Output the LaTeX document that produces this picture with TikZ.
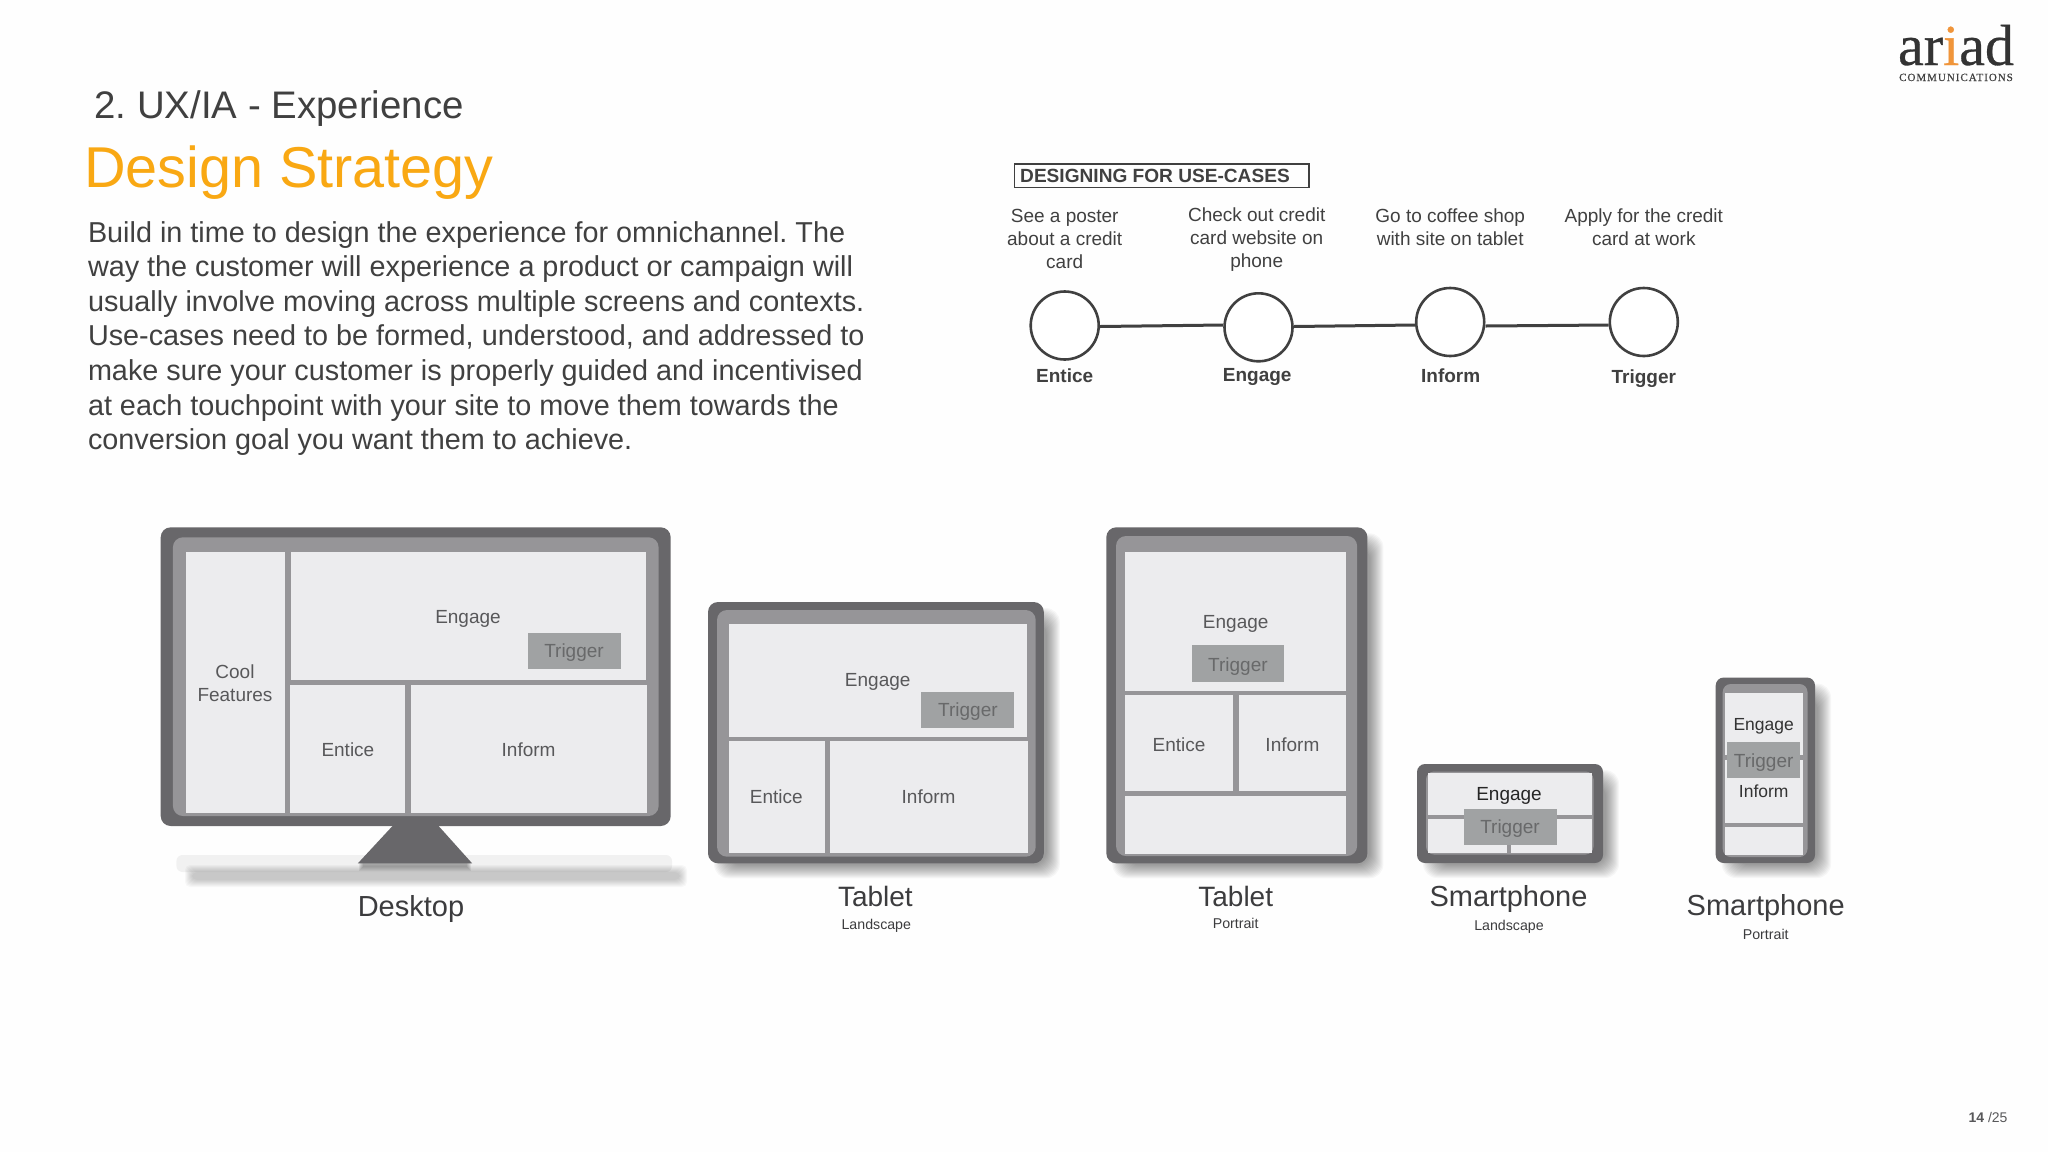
\documentclass[tikz,border=0pt]{standalone}
\usepackage{fontspec}
\setmainfont{Liberation Sans}
\newfontfamily\logofont[FakeBold=0.5]{Liberation Serif}
\newfontfamily\logosmall[LetterSpace=9,FakeBold=0.4]{Liberation Serif}
\usetikzlibrary{calc}
\definecolor{bgc}{HTML}{FEFEFE}
\definecolor{devdark}{HTML}{68676A}
\definecolor{devframe}{HTML}{969598}
\definecolor{devpanel}{HTML}{ECECEE}
\definecolor{trigfill}{HTML}{A0A2A3}
\definecolor{paneltxt}{HTML}{58585A}
\definecolor{trigtxt}{HTML}{68696A}
\definecolor{labeltxt}{HTML}{3C3C3E}
\definecolor{bodytxt}{HTML}{404040}
\definecolor{orangetxt}{HTML}{F9A813}
\definecolor{logoorange}{HTML}{F0953A}
\tikzset{
  txtbase/.style={inner sep=0pt,outer sep=0pt,anchor=center,align=center},
  paneltext/.style={txtbase,text=paneltxt,font=\fontsize{19}{23}\selectfont},
  trigtext/.style={txtbase,text=trigtxt,font=\fontsize{19}{23}\selectfont},
  darktext/.style={txtbase,text=black!85,font=\fontsize{19}{23}\selectfont},
  phonetext/.style={txtbase,text=black!80,font=\fontsize{17.5}{21}\selectfont},
  devlabel/.style={txtbase,text=labeltxt,font=\fontsize{29}{33}\selectfont},
  tablabel/.style={txtbase,text=labeltxt,font=\fontsize{28}{33}\selectfont},
  devsub/.style={txtbase,text=labeltxt,font=\fontsize{14.2}{17}\selectfont},
  ucase/.style={txtbase,text=bodytxt,font=\fontsize{19}{23}\selectfont},
  ulabel/.style={txtbase,text=bodytxt,font=\bfseries\fontsize{19}{23}\selectfont},
  stepcircle/.style={circle,draw=black!75,line width=2.6pt,fill=white,minimum size=68pt,inner sep=0pt},
  stepline/.style={draw=black!75,line width=3pt},
  panelfill/.style={fill=devpanel},
  trigfillstyle/.style={fill=trigfill},
}
% soft drop shadow of a device box
\newcommand{\devshadow}[4]{%
  \foreach \k in {1,...,14}{
    \fill[black,opacity=0.03,rounded corners=14pt] ({#1+20-\k},{#2+20-\k}) rectangle ({#3+2+\k},{#4+1+\k});
  }
}
% device: outer box, frame box, corner radius
\newcommand{\devicebody}[9]{%
  \fill[devdark,rounded corners=#9pt] (#1,#2) rectangle (#3,#4);
  \fill[devframe,rounded corners=#9pt] (#5,#6) rectangle (#7,#8);
}
\newcommand{\pnl}[4]{\fill[panelfill] (#1,#2) rectangle (#3,#4);}
\newcommand{\trg}[4]{\fill[trigfillstyle] (#1,#2) rectangle (#3,#4);}
\begin{document}
\frenchspacing
\begin{tikzpicture}[x=1pt,y=-1pt]
\useasboundingbox (0,0) rectangle (2048,1152);
\fill[bgc] (0,0) rectangle (2048,1152);

% Logo
\node[inner sep=0pt,outer sep=0pt,text=black!80,font=\logofont\fontsize{58}{60}\selectfont,anchor=base] (logo) at (1956,65) {ar{\color{logoorange}i}ad};
\node[inner sep=0pt,outer sep=0pt,text=black!75,font=\logosmall\fontsize{11}{12}\selectfont,anchor=base] (logosub) at (1956,81) {COMMUNICATIONS};

% Headline
\node[txtbase,anchor=west,text=bodytxt,font=\fontsize{38.4}{44}\selectfont] (head) at (94.5,109) {2. UX/IA - Experience};
\node[txtbase,anchor=west,text=orangetxt,font=\fontsize{57.6}{64}\selectfont] (title) at (84,173) {Design Strategy};
\node[txtbase,anchor=west,align=left,text=bodytxt,font=\fontsize{28.8}{34.65}\selectfont] (body) at (88,338.5) {Build in time to design the experience for omnichannel. The\\
way the customer will experience a product or campaign will\\
usually involve moving across multiple screens and contexts.\\
Use-cases need to be formed, understood, and addressed to\\
make sure your customer is properly guided and incentivised\\
at each touchpoint with your site to move them towards the\\
conversion goal you want them to achieve.};

% Use-cases
\draw[draw=black!75,line width=1.6pt] (1014.5,163.7) rectangle (1309,187.3);
\node[txtbase,anchor=west,text=bodytxt,font=\bfseries\fontsize{19.1}{23}\selectfont] (ucasehead) at (1020.2,176) {DESIGNING FOR USE-CASES};
\node[ucase] (t1) at (1064.7,238.5) {See a poster\\about a credit\\card};
\node[ucase] (t2) at (1256.7,239.5) {Check out credit\\card website on\\phone};
\node[ucase] (t3) at (1450.2,227) {Go to coffee shop\\with site on tablet};
\node[ucase] (t4) at (1643.8,227) {Apply for the credit\\card at work};
\node[stepcircle] (c1) at (1064.7,325.5) {};
\node[stepcircle] (c2) at (1258.5,327.3) {};
\node[stepcircle] (c3) at (1450.2,322) {};
\node[stepcircle] (c4) at (1643.8,322) {};
\draw[stepline] ([yshift=-1pt]c1.east) -- ([yshift=2.3pt]c2.west);
\draw[stepline] ([yshift=0.8pt]c2.east) -- ([yshift=-3pt]c3.west);
\draw[stepline] ([yshift=-4pt]c3.east) -- ([yshift=-3pt]c4.west);
\node[ulabel] (l1) at (1064.7,376) {Entice};
\node[ulabel] (l2) at (1257.2,377) {Engage};
\node[ulabel] (l3) at (1450.7,376) {Inform};
\node[ulabel] (l4) at (1643.8,378.5) {Trigger};

% Desktop
\fill[black,opacity=0.05,rounded corners=6pt] (176.4,855) rectangle (672,872);
\foreach \k in {1,...,8}{
  \fill[black,opacity=0.027,rounded corners=5pt] ({184+\k},{864+\k}) rectangle ({688-\k},{888-\k});
}
\foreach \k in {1,...,5}{
  \fill[black,opacity=0.07] ({357.9+\k},{862}) rectangle ({472.1-\k},{872-\k});
}
\fill[devdark] (392.5,826) -- (438.6,826) -- (472.1,863.3) -- (357.9,863.3) -- cycle;
\devicebody{160.7}{527.3}{670.7}{826}{172.9}{537.3}{658.6}{816}{10}
\pnl{185.7}{552}{284.6}{812.7}
\pnl{290.7}{552}{646.4}{680}
\pnl{290.4}{685}{405}{812.7}
\pnl{411}{685}{647}{812.7}
\trg{527.9}{633}{620.7}{669}
\node[paneltext] (d1) at (468,619) {Engage};
\node[trigtext] (d2) at (574,653) {Trigger};
\node[paneltext] (d3) at (235,683) {Cool\\Features};
\node[paneltext] (d4) at (347.9,750) {Entice};
\node[paneltext] (d5) at (528.6,750) {Inform};
\node[devlabel] (d6) at (411,908.5) {Desktop};

% Tablet landscape
\devshadow{708}{602}{1043.8}{863.3}
\devicebody{708}{602}{1043.8}{863.3}{717}{610}{1035.7}{856.7}{10}
\pnl{728.6}{623.7}{1027.2}{736.7}
\pnl{728.6}{740.7}{825}{852.7}
\pnl{829.9}{740.7}{1028.1}{852.7}
\trg{921}{692}{1013.8}{728}
\node[paneltext] (a1) at (877.7,682) {Engage};
\node[trigtext] (a2) at (967.9,712) {Trigger};
\node[paneltext] (a3) at (776.3,797) {Entice};
\node[paneltext] (a4) at (928.6,797) {Inform};
\node[tablabel] (a5) at (875.4,896) {Tablet};
\node[devsub] (a6) at (876.3,926) {Landscape};

% Tablet portrait
\devshadow{1106.3}{527.3}{1367.4}{863.3}
\devicebody{1106.3}{527.3}{1367.4}{863.3}{1116}{536}{1357.1}{856}{10}
\pnl{1125.4}{551.7}{1346.4}{691}
\pnl{1125.4}{695.3}{1232.6}{791}
\pnl{1238.8}{695.3}{1346.4}{791}
\pnl{1125.4}{796}{1346.4}{854}
\trg{1191.5}{645.3}{1284.4}{681.7}
\node[paneltext] (b1) at (1235.7,623.7) {Engage};
\node[trigtext] (b2) at (1237.9,667) {Trigger};
\node[paneltext] (b3) at (1179,744.4) {Entice};
\node[paneltext] (b4) at (1292.4,744.4) {Inform};
\node[tablabel] (b5) at (1235.7,896) {Tablet};
\node[devsub] (b6) at (1235.7,923.5) {Portrait};

% Smartphone landscape
\devshadow{1417}{764}{1603}{863}
\devicebody{1417}{764}{1603}{863}{1426}{771.5}{1593.5}{854.5}{8}
\pnl{1427.7}{773}{1592}{815}
\pnl{1427.7}{819}{1592}{852.7}
\fill[devframe] (1507.3,845) rectangle (1511,852.7);
\trg{1463.7}{809}{1556.7}{845}
\node[darktext] (s1) at (1509,796) {Engage};
\node[trigtext] (s2) at (1510,829) {Trigger};
\node[devlabel] (s3) at (1508.5,899) {Smartphone};
\node[devsub] (s4) at (1509,926.5) {Landscape};

% Smartphone portrait
\devshadow{1715.7}{677.5}{1815}{863}
\devicebody{1715.7}{677.5}{1815}{863}{1722.7}{684}{1807.5}{857}{8}
\pnl{1725}{692.7}{1802.7}{823}
\pnl{1725}{827}{1802.7}{855}
\fill[devframe] (1725,755) rectangle (1802.7,760);
\trg{1727.3}{741.7}{1799.7}{778}
\node[phonetext] (p1) at (1763.7,726) {Engage};
\node[trigtext] (p2) at (1763.7,762.5) {Trigger};
\node[phonetext] (p3) at (1763.7,791.7) {Inform};
\node[devlabel] (p4) at (1765.7,907.5) {Smartphone};
\node[devsub] (p5) at (1765.7,934) {Portrait};

% Page number
\node[txtbase,text=paneltxt,font=\fontsize{14}{16}\selectfont] (pg) at (1988,1117) {{\bfseries 14} /25};
\end{tikzpicture}
\end{document}
